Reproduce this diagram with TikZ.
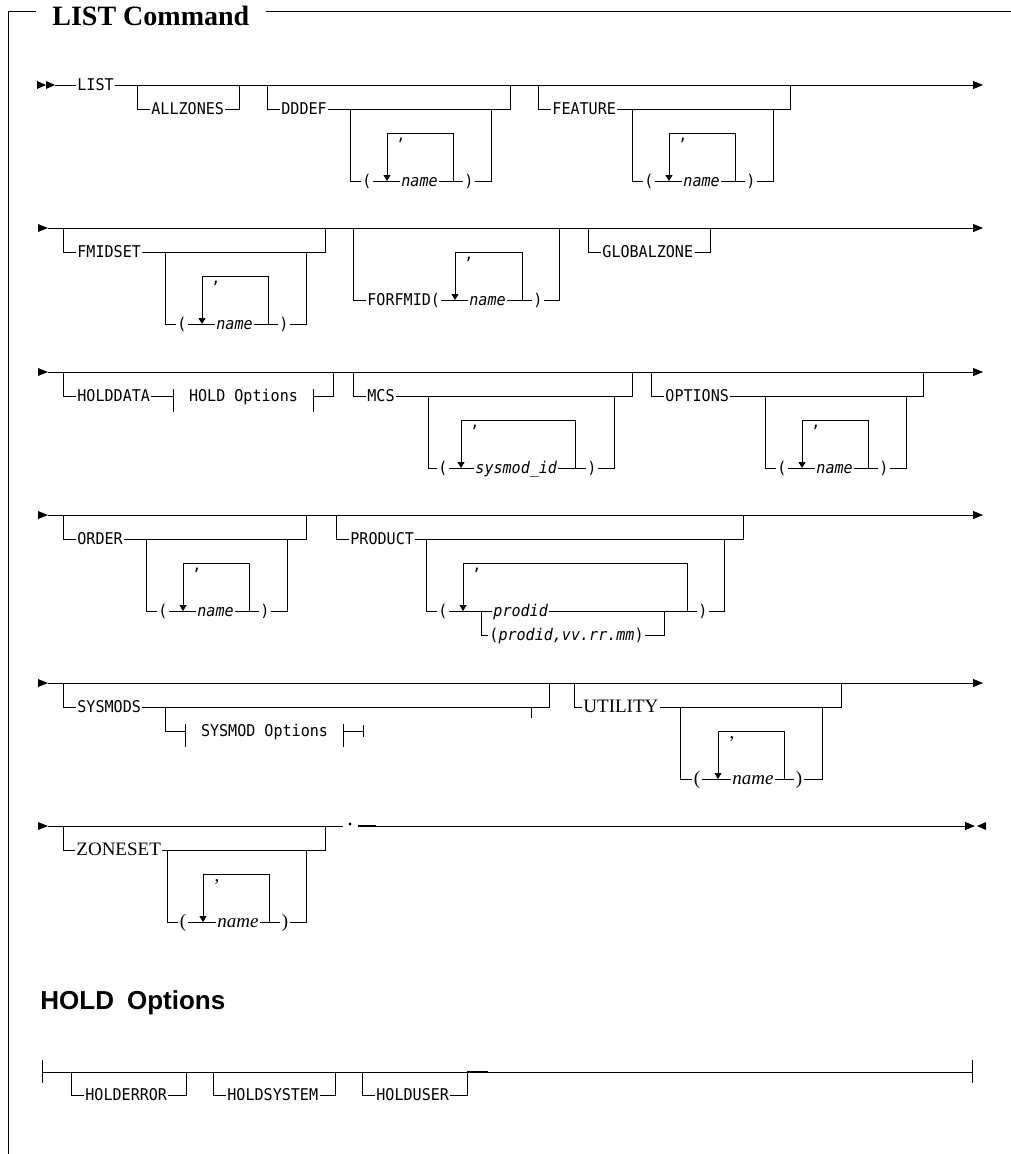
\documentclass[tikz,border=0pt]{standalone}
\usepackage{fontspec}
\setmonofont{DejaVu Sans Mono}[FakeStretch=0.93]
\newfontfamily\serifL{Liberation Serif}
\newfontfamily\sansL{Liberation Sans}
\usetikzlibrary{arrows.meta}

% simple optional branch: id, xLeft, xRight, ymain, ylow, label
\newcommand\optb[6]{%
  \coordinate (#1L) at (#2,#4);
  \coordinate (#1R) at (#3,#4);
  \node[kw] (#1) at (#2+13,#5) {#6};
  \draw (#1L) |- (#1.west);
  \draw (#1.east) -| (#1R);
}
% repeat group: id, x"(", xArrow, xLabelWest, xLoopRight, x")", yTop, yRow, label
\newcommand\repg[9]{%
  \node[reppar] (#1o) at (#2,#8) {(};
  \coordinate (#1a) at (#3,#7);
  \node[replab] (#1n) at (#4,#8) {#9};
  \coordinate (#1r) at (#5,#7);
  \node[reppar] (#1c) at (#6,#8) {)};
  \draw (#1o.east) -- (#1n.west);
  \draw (#1n.east) -- (#1c.west);
  \draw[looparr] (#1a) -- (#1a |- #1n.west);
  \draw (#1a) -- (#1r) -- (#1r |- #1n.west);
  \node[repcom] (#1k) at (#3+14,#7+7) {,};
}
\newcommand\startarr[2]{\fill (#1-10,#2-4) -- (#1,#2) -- (#1-10,#2+4) -- cycle;}

\begin{document}
\begin{tikzpicture}[x=1pt,y=-1pt,line width=0.85pt,
  kw/.style={font=\fontsize{16.2}{19}\selectfont\ttfamily,inner sep=1pt,text height=10pt,text depth=0pt,anchor=west},
  kwi/.style={kw,font=\fontsize{16.2}{19}\selectfont\ttfamily\itshape},
  pn/.style={kw,anchor=center},
  sw/.style={font=\fontsize{19}{22}\selectfont\serifL,inner sep=1pt,text height=11pt,text depth=0pt,anchor=west},
  swi/.style={sw,font=\fontsize{19}{22}\selectfont\serifL\itshape},
  spn/.style={sw,anchor=center},
  replab/.style={kwi}, reppar/.style={pn}, repcom/.style={kw,anchor=base},
  refbox/.style={kw,anchor=center,inner xsep=15.5pt},
  title/.style={font=\fontsize{28}{30}\selectfont\serifL\bfseries,inner xsep=16pt,inner ysep=0pt,anchor=base west},
  head/.style={font=\fontsize{26}{28}\selectfont\sansL\bfseries,inner sep=0pt,anchor=west},
  endarr/.style={-{Triangle[length=10pt,width=8pt]}},
  looparr/.style={-{Triangle[length=6pt,width=7pt]}}]
\useasboundingbox (0,0) rectangle (1011,1154);

% ---------- frame ----------
\node[title] (ttl) at (36,25) {LIST Command};
\coordinate (fTL) at (8,11);
\coordinate (fBL) at (8,1154);
\coordinate (fTR) at (1011,11);
\draw (fBL) -- (fTL) -- (fTL -| ttl.west);
\draw (fTL -| ttl.east) -- (fTR);

% ---------- row 1 ----------
\fill (37,81) -- (46,85) -- (37,89) -- cycle;
\fill (46,81) -- (55,85) -- (46,89) -- cycle;
\coordinate (r1s) at (55,85);
\coordinate (r1e) at (983,85);
\node[kw] (list) at (76,85) {LIST};
\draw (r1s) -- (list.west);
\draw[endarr] (list.east) -- (r1e);
\optb{allz}{137}{239}{85}{109}{ALLZONES}
\optb{ddd}{267}{510}{85}{109}{DDDEF}
\coordinate (dddIL) at (350,109);
\coordinate (dddIR) at (491,109);
\repg{dddr}{367}{387}{400}{453}{469}{133}{181}{name}
\draw (dddIL) |- (dddro.west);
\draw (dddrc.east) -| (dddIR);
\optb{feat}{538}{790}{85}{109}{FEATURE}
\coordinate (featIL) at (632,109);
\coordinate (featIR) at (773,109);
\repg{featr}{649}{669}{682}{735}{751}{133}{181}{name}
\draw (featIL) |- (featro.west);
\draw (featrc.east) -| (featIR);

% ---------- row 2 ----------
\startarr{48}{228}
\coordinate (r2s) at (48,228);
\coordinate (r2e) at (983,228);
\draw[endarr] (r2s) -- (r2e);
\optb{fmid}{63}{325}{228}{252}{FMIDSET}
\coordinate (fmidIL) at (165,252);
\coordinate (fmidIR) at (306,252);
\repg{fmidr}{182}{202}{215}{268}{284}{276}{324}{name}
\draw (fmidIL) |- (fmidro.west);
\draw (fmidrc.east) -| (fmidIR);
% FORFMID
\coordinate (ffL) at (353,228);
\coordinate (ffR) at (559,228);
\node[kw] (ffm) at (366,300) {FORFMID(};
\coordinate (ffa) at (455,252);
\node[kwi] (ffn) at (468,300) {name};
\coordinate (ffr) at (522,252);
\node[pn] (ffc) at (538,300) {)};
\draw (ffL) |- (ffm.west);
\draw (ffm.east) -- (ffn.west);
\draw (ffn.east) -- (ffc.west);
\draw[looparr] (ffa) -- (ffa |- ffn.west);
\draw (ffa) -- (ffr) -- (ffr |- ffn.west);
\node[kw,anchor=base] (ffk) at (469,259) {,};
\draw (ffc.east) -| (ffR);
\optb{glob}{588}{710}{228}{252}{GLOBALZONE}

% ---------- row 3 ----------
\startarr{48}{372}
\coordinate (r3s) at (48,372);
\coordinate (r3e) at (983,372);
\draw[endarr] (r3s) -- (r3e);
\coordinate (hdL) at (63,372);
\coordinate (hdR) at (333,372);
\node[kw] (hd) at (76,396) {HOLDDATA};
\node[refbox] (hopt) at (243.5,396) {HOLD Options};
\draw (hdL) |- (hd.west);
\draw (hd.east) -- (hopt.west);
\draw ([yshift=7pt]hopt.west) -- ([yshift=-16pt]hopt.west);
\draw ([yshift=7pt]hopt.east) -- ([yshift=-16pt]hopt.east);
\draw (hopt.east) -| (hdR);
\optb{mcs}{353}{632}{372}{396}{MCS}
\coordinate (mcsIL) at (428,396);
\coordinate (mcsIR) at (614,396);
\repg{mcsr}{443}{461}{474}{575}{592}{420}{468}{sysmod\_id}
\draw (mcsIL) |- (mcsro.west);
\draw (mcsrc.east) -| (mcsIR);
\optb{opt}{651}{923}{372}{396}{OPTIONS}
\coordinate (optIL) at (765,396);
\coordinate (optIR) at (906,396);
\repg{optr}{782}{802}{815}{868}{884}{420}{468}{name}
\draw (optIL) |- (optro.west);
\draw (optrc.east) -| (optIR);

% ---------- row 4 ----------
\startarr{48}{515}
\coordinate (r4s) at (48,515);
\coordinate (r4e) at (983,515);
\draw[endarr] (r4s) -- (r4e);
\optb{ord}{63}{306}{515}{539}{ORDER}
\coordinate (ordIL) at (146,539);
\coordinate (ordIR) at (287,539);
\repg{ordr}{163}{183}{196}{249}{265}{563}{611}{name}
\draw (ordIL) |- (ordro.west);
\draw (ordrc.east) -| (ordIR);
\optb{prd}{336}{743}{515}{539}{PRODUCT}
\coordinate (prdIL) at (426,539);
\coordinate (prdIR) at (724,539);
\node[pn] (pdo) at (443,611) {(};
\coordinate (pda) at (463,563);
\coordinate (pdj) at (481,611);
\node[kwi] (pdn) at (492,611) {prodid};
\node[kw] (pdalt) at (488,635) {(\textit{prodid,vv.rr.mm})};
\coordinate (pdaltR) at (664,611);
\coordinate (pdr) at (687,563);
\node[pn] (pdc) at (703,611) {)};
\draw (pdo.east) -- (pdn.west);
\draw (pdn.east) -- (pdc.west);
\draw (pdj) |- (pdalt.west);
\draw (pdalt.east) -| (pdaltR);
\draw[looparr] (pda) -- (pda |- pdn.west);
\draw (pda) -- (pdr) -- (pdr |- pdn.west);
\node[kw,anchor=base] (pdk) at (477,570) {,};
\draw (prdIL) |- (pdo.west);
\draw (pdc.east) -| (prdIR);

% ---------- row 5 ----------
\startarr{48}{683}
\coordinate (r5s) at (48,683);
\coordinate (r5e) at (983,683);
\draw[endarr] (r5s) -- (r5e);
\optb{sysm}{63}{549}{683}{707}{SYSMODS}
\coordinate (smIL) at (165,707);
\node[refbox] (sopt) at (264.5,731) {SYSMOD Options};
\coordinate (soE) at (363,731);
\coordinate (smT) at (531,707);
\draw (smIL) |- (sopt.west);
\draw ([yshift=7pt]sopt.west) -- ([yshift=-16pt]sopt.west);
\draw ([yshift=7pt]sopt.east) -- ([yshift=-16pt]sopt.east);
\draw (sopt.east) -- (soE);
\draw ([yshift=6pt]soE) -- ([yshift=-6pt]soE);
\draw (smT) -- ++(0,11);
% UTILITY (serif)
\coordinate (utL) at (574,683);
\coordinate (utR) at (841,683);
\node[sw] (util) at (582,707) {UTILITY};
\draw (utL) |- (util.west);
\draw (util.east) -| (utR);
\coordinate (utIL) at (680,707);
\coordinate (utIR) at (822,707);
\tikzset{replab/.style={swi},reppar/.style={spn},repcom/.style={sw,anchor=base}}
\repg{utr}{697}{718}{731}{784}{799}{731}{779}{name}
\draw (utIL) |- (utro.west);
\draw (utrc.east) -| (utIR);

% ---------- row 6 ----------
\startarr{48}{826}
\coordinate (r6s) at (48,826);
\coordinate (r6a) at (343,826);
\draw (r6s) -- (r6a);
\coordinate (zsL) at (63,826);
\coordinate (zsR) at (325,826);
\node[sw] (zs) at (75,850) {ZONESET};
\draw (zsL) |- (zs.west);
\draw (zs.east) -| (zsR);
\coordinate (zsIL) at (167,850);
\coordinate (zsIR) at (306,850);
\repg{zsr}{183}{203}{216}{269}{285}{874}{922}{name}
\draw (zsIL) |- (zsro.west);
\draw (zsrc.east) -| (zsIR);
\node[circle,fill,inner sep=0pt,minimum size=3.4pt] (dot) at (350,824) {};
\coordinate (r6b) at (358,826);
\coordinate (r6c) at (376,826);
\coordinate (r6e) at (975,826);
\draw[line width=1.8pt] (r6b) -- (r6c);
\draw[endarr] (r6c) -- (r6e);
\fill (986,822) -- (977,826) -- (986,830) -- cycle;

% ---------- HOLD Options ----------
\node[head] (hhead) at (40,1003) {HOLD\hspace{0.5em}Options};
\coordinate (hoL) at (42,1072);
\coordinate (hoR) at (972,1072);
\draw (hoL) -- (hoR);
\draw ([yshift=12pt]hoL) -- ([yshift=-11pt]hoL);
\draw ([yshift=12pt]hoR) -- ([yshift=-11pt]hoR);
\optb{herr}{71}{186}{1072}{1095}{HOLDERROR}
\optb{hsys}{213}{335}{1072}{1095}{HOLDSYSTEM}
\optb{husr}{362}{467}{1072}{1095}{HOLDUSER}
\draw[line width=1.4pt] (husrR) -- ++(21,0);
\end{tikzpicture}
\end{document}
